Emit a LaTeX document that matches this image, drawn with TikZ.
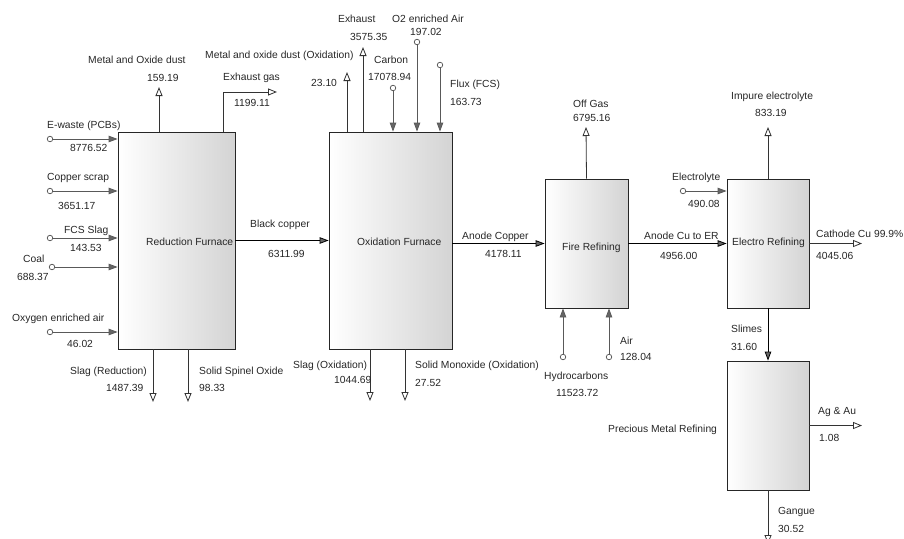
\documentclass[tikz,border=0pt]{standalone}
\usepackage{fontspec}
\setmainfont{Liberation Sans}
\usetikzlibrary{arrows.meta}
\begin{document}
\begin{tikzpicture}[x=1pt,y=-1pt,
  proc/.style={draw=black!85, line width=0.8pt, rectangle, inner sep=0pt, left color=white, right color=black!17},
  lbl/.style={anchor=west, inner sep=0pt, text height=7pt, text depth=0pt, text=black!85, font=\fontsize{10.3}{12}\selectfont},
  src/.style={circle, draw=black!70, fill=white, line width=0.7pt, inner sep=0pt, minimum size=5.5pt},
  inflow/.style={draw=black!65, line width=0.8pt, -{Triangle[length=9pt,width=6.5pt,fill=black!60]}},
  outflow/.style={draw=black!80, line width=0.8pt, -{Triangle[open,length=9pt,width=7pt,fill=white]}},
  link/.style={draw=black, line width=0.8pt, -{Triangle[length=9pt,width=6.5pt,fill=black!60]}}]
\useasboundingbox (0,0) rectangle (904,538);

% process boxes
\node[proc, minimum width=117pt, minimum height=217pt] (red) at (176.5,240.5) {};
\node[proc, minimum width=123pt, minimum height=217pt] (oxi) at (390.5,240.5) {};
\node[proc, minimum width=83pt, minimum height=129pt] (fire) at (586.5,243.5) {};
\node[proc, minimum width=82pt, minimum height=129pt] (er) at (768,243.5) {};
\node[proc, minimum width=82pt, minimum height=129pt] (pmr) at (768,425.5) {};

\node[lbl] (tred) at (146,242) {Reduction Furnace};
\node[lbl] (toxi) at (357,242) {Oxidation Furnace};
\node[lbl] (tfire) at (562,247) {Fire Refining};
\node[lbl] (ter) at (732,242) {Electro Refining};
\node[lbl] (tpmr) at (608,429) {Precious Metal Refining};

% ---------- Reduction furnace inputs
\node[src] (ew) at (50,139) {};
\node[src] (cs) at (50,191) {};
\node[src] (fcs) at (50,238) {};
\node[src] (coal) at (52,267) {};
\node[src] (oea) at (50,332) {};
\draw[inflow] (ew) -- (ew -| red.west);
\draw[inflow] (cs) -- (cs -| red.west);
\draw[inflow] (fcs) -- (fcs -| red.west);
\draw[inflow] (coal) -- (coal -| red.west);
\draw[inflow] (oea) -- (oea -| red.west);

% ---------- Reduction furnace outputs
\coordinate (mod) at (159,87);
\draw[outflow] (red.north -| mod) -- (mod);
\coordinate (egb) at (223,92);
\coordinate (eg) at (277,92);
\draw[outflow] (red.north -| egb) -- (egb) -- (eg);
\coordinate (slr) at (153,402);
\coordinate (sso) at (188,402);
\draw[outflow] (red.south -| slr) -- (slr);
\draw[outflow] (red.south -| sso) -- (sso);

% ---------- Black copper
\draw[link] (red.east) -- (oxi.west);

% ---------- Oxidation furnace
\coordinate (modo) at (347,72);
\coordinate (exh) at (363,47);
\draw[outflow] (oxi.north -| modo) -- (modo);
\draw[outflow] (oxi.north -| exh) -- (exh);
\node[src] (carb) at (393,88) {};
\node[src] (o2) at (417,42) {};
\node[src] (flux) at (440,65) {};
\draw[inflow] (carb) -- (carb |- oxi.north);
\draw[inflow] (o2) -- (o2 |- oxi.north);
\draw[inflow] (flux) -- (flux |- oxi.north);
\coordinate (slo) at (370,401);
\coordinate (smo) at (405,401);
\draw[outflow] (oxi.south -| slo) -- (slo);
\draw[outflow] (oxi.south -| smo) -- (smo);

% ---------- Anode copper
\draw[link] (oxi.east |- fire.west) -- (fire.west);

% ---------- Fire refining
\coordinate (offg) at (586,127);
\draw[outflow] (fire.north) -- (offg);
\node[src] (hc) at (563,357) {};
\node[src] (air) at (609,357) {};
\draw[inflow] (hc) -- (hc |- fire.south);
\draw[inflow] (air) -- (air |- fire.south);
\draw[link] (fire.east) -- (er.west);

% ---------- Electro refining
\node[src] (elec) at (683,191) {};
\draw[inflow] (elec) -- (elec -| er.west);
\coordinate (ie) at (768,127);
\draw[outflow] (er.north) -- (ie);
\coordinate (cat) at (862,243.5);
\draw[outflow] (er.east) -- (cat);
\draw[link] (er.south) -- (pmr.north);

% ---------- Precious metal refining
\coordinate (agau) at (862,425.5);
\draw[outflow] (pmr.east) -- (agau);
\coordinate (gang) at (768,544);
\draw[outflow] (pmr.south) -- (gang);

% ---------- labels
\node[lbl] (l1) at (88,60) {Metal and Oxide dust};
\node[lbl] (v1) at (147,78) {159.19};
\node[lbl] (l2) at (223,77) {Exhaust gas};
\node[lbl] (v2) at (234,103) {1199.11};
\node[lbl] (l3) at (47,125) {E-waste (PCBs)};
\node[lbl] (v3) at (70,148) {8776.52};
\node[lbl] (l4) at (47,177) {Copper scrap};
\node[lbl] (v4) at (58,206) {3651.17};
\node[lbl] (l5) at (64,230) {FCS Slag};
\node[lbl] (v5) at (70,248) {143.53};
\node[lbl] (l6) at (23,259) {Coal};
\node[lbl] (v6) at (17,277) {688.37};
\node[lbl] (l7) at (12,318) {Oxygen enriched air};
\node[lbl] (v7) at (67,344) {46.02};
\node[lbl] (l9) at (250,224) {Black copper};
\node[lbl] (v9) at (268,254) {6311.99};
\node[lbl] (l10) at (70,371) {Slag (Reduction)};
\node[lbl] (v10) at (106,388) {1487.39};
\node[lbl] (l11) at (199,371) {Solid Spinel Oxide};
\node[lbl] (v11) at (199,388) {98.33};
\node[lbl] (l12) at (205,55) {Metal and oxide dust (Oxidation)};
\node[lbl] (v12) at (311,83) {23.10};
\node[lbl] (l13) at (338,19) {Exhaust};
\node[lbl] (v13) at (350,37) {3575.35};
\node[lbl] (l14) at (374,60) {Carbon};
\node[lbl] (v14) at (368,77) {17078.94};
\node[lbl] (l15) at (392,19) {O2 enriched Air};
\node[lbl] (v15) at (410,32) {197.02};
\node[lbl] (l16) at (450,84) {Flux (FCS)};
\node[lbl] (v16) at (450,102) {163.73};
\node[lbl] (l18) at (293,365) {Slag (Oxidation)};
\node[lbl] (v18) at (334,380) {1044.69};
\node[lbl] (l19) at (415,365) {Solid Monoxide (Oxidation)};
\node[lbl] (v19) at (415,383) {27.52};
\node[lbl] (l20) at (462,236) {Anode Copper};
\node[lbl] (v20) at (485,254) {4178.11};
\node[lbl] (l21) at (573,104) {Off Gas};
\node[lbl] (v21) at (573,118) {6795.16};
\node[lbl] (l23) at (544,376) {Hydrocarbons};
\node[lbl] (v23) at (556,393) {11523.72};
\node[lbl] (l24) at (620,341) {Air};
\node[lbl] (v24) at (620,357) {128.04};
\node[lbl] (l25) at (644,236) {Anode Cu to ER};
\node[lbl] (v25) at (660,256) {4956.00};
\node[lbl] (l26) at (672,177) {Electrolyte};
\node[lbl] (v26) at (688,204) {490.08};
\node[lbl] (l27) at (731,96) {Impure electrolyte};
\node[lbl] (v27) at (755,113) {833.19};
\node[lbl] (l29) at (816,234) {Cathode Cu 99.9\%};
\node[lbl] (v29) at (816,256) {4045.06};
\node[lbl] (l30) at (731,329) {Slimes};
\node[lbl] (v30) at (731,347) {31.60};
\node[lbl] (l32) at (818,411) {Ag \& Au};
\node[lbl] (v32) at (819,438) {1.08};
\node[lbl] (l33) at (778,511) {Gangue};
\node[lbl] (v33) at (778,529) {30.52};
\end{tikzpicture}
\end{document}
